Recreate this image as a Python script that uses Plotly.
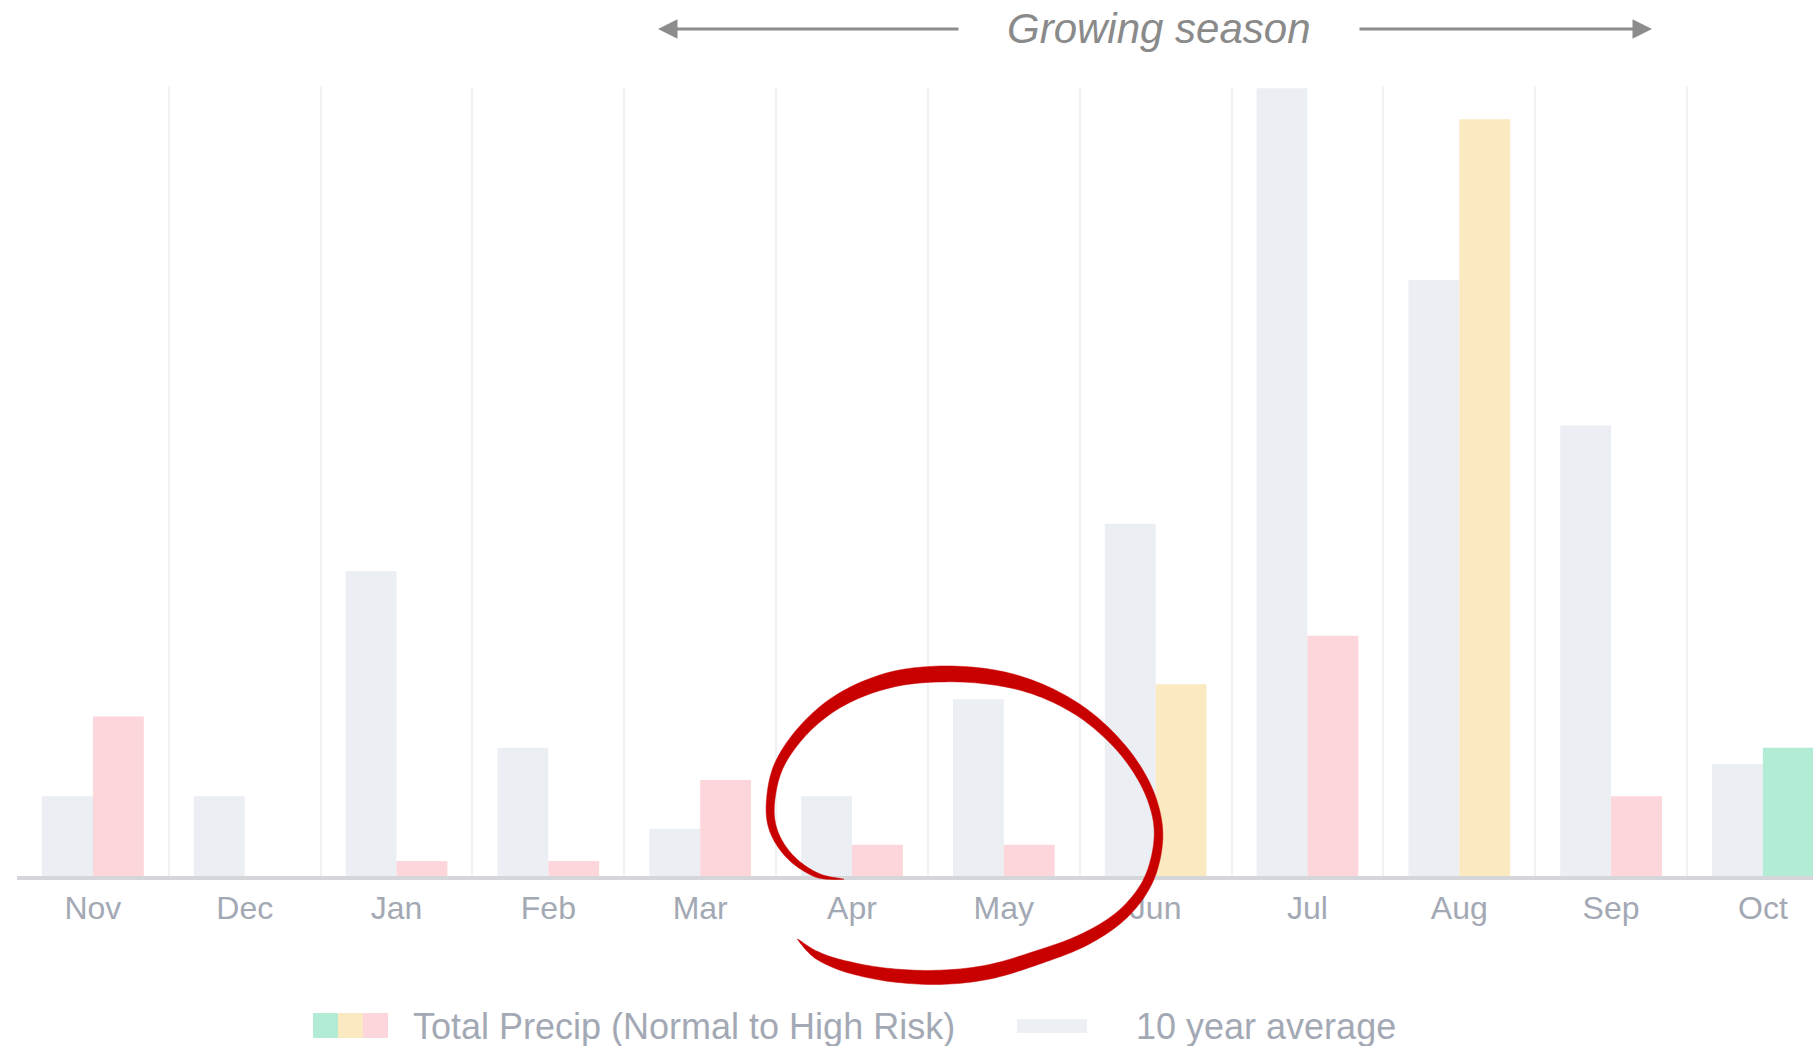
import numpy as np
import plotly.graph_objects as go

# ---------------- data ----------------
months = ["Nov", "Dec", "Jan", "Feb", "Mar", "Apr", "May", "Jun", "Jul", "Aug", "Sep", "Oct"]
ten_year_avg = [6.9, 6.9, 26.4, 11.1, 4.1, 6.9, 15.3, 30.5, 68.2, 51.6, 39.0, 9.7]
total_precip = [13.8, 0.0, 1.3, 1.3, 8.3, 2.7, 2.7, 16.6, 20.8, 65.5, 6.9, 11.1]
risk_level = ["high", "high", "high", "high", "high", "high", "high",
              "elevated", "high", "elevated", "high", "normal"]

risk_colors = {"normal": "#b2ecd5", "elevated": "#fbe9c1", "high": "#fdd6db"}
avg_color = "#ebeef2"
tick_color = "#a3a9b4"
red = "#c80000"

W, H = 1813, 1046
ML, MR, MT, MB = 17, 0, 87, 170
PW, PH = W - ML - MR, H - MT - MB


def px2paper(x, y):
    return (x - ML) / PW, (H - MB - y) / PH


fig = go.Figure()
fig.add_trace(go.Bar(x=months, y=ten_year_avg, name="10 year average",
                     marker=dict(color=avg_color, line=dict(width=0)),
                     showlegend=False))
fig.add_trace(go.Bar(x=months, y=total_precip, name="Total Precip (Normal to High Risk)",
                     marker=dict(color=[risk_colors[r] for r in risk_level], line=dict(width=0)),
                     showlegend=False))

fig.update_layout(
    width=W, height=H,
    margin=dict(l=ML, r=MR, t=MT, b=MB, pad=0),
    paper_bgcolor="white", plot_bgcolor="white",
    barmode="group", bargap=0.33, bargroupgap=0.0,
    font=dict(family="Liberation Sans, Arial, sans-serif"),
    xaxis=dict(
        type="category", range=[-0.5, 11.33],
        tickson="boundaries", showgrid=True, gridcolor="#f0f1f2", gridwidth=2,
        showline=True, linecolor="#d4d6da", linewidth=4,
        ticks="", tickfont=dict(size=32, color=tick_color),
        ticklabelstandoff=1,
    ),
    yaxis=dict(range=[0, 68.3], showgrid=False, zeroline=False,
               showticklabels=False, showline=False),
)

annotations = []
shapes = []

# "Growing season" header with arrows
tx, ty = px2paper(1159, 29)
annotations.append(dict(x=tx, y=ty, xref="paper", yref="paper", text="Growing season",
                        showarrow=False, xanchor="center", yanchor="middle",
                        font=dict(size=42, color="#8a8a8a", style="italic",
                                  family="Liberation Sans, Arial, sans-serif")))
for tip, tail in [((658, 29), (960, 29)), ((1652, 29), (1358, 29))]:
    hx, hy = px2paper(*tip)
    annotations.append(dict(x=hx, y=hy, xref="paper", yref="paper", text="",
                            showarrow=True, axref="pixel", ayref="pixel",
                            ax=tail[0] - tip[0], ay=tail[1] - tip[1],
                            arrowhead=2, arrowsize=1.3, arrowwidth=3,
                            arrowcolor="#8c8c8c", standoff=0, startstandoff=0))

# custom legend
sw_y0, sw_y1 = 1013, 1038
for i, key in enumerate(["normal", "elevated", "high"]):
    x0 = 313 + i * 25
    a0 = px2paper(x0, sw_y1)
    a1 = px2paper(x0 + 25, sw_y0)
    shapes.append(dict(type="rect", xref="paper", yref="paper",
                       x0=a0[0], y0=a0[1], x1=a1[0], y1=a1[1],
                       fillcolor=risk_colors[key], line=dict(width=0), layer="above"))
g0 = px2paper(1017, 1033)
g1 = px2paper(1087, 1019)
shapes.append(dict(type="rect", xref="paper", yref="paper",
                   x0=g0[0], y0=g0[1], x1=g1[0], y1=g1[1],
                   fillcolor="#eceff3", line=dict(width=0), layer="above"))
for lx, label in [(411, "Total Precip (Normal to High Risk)"), (1134, "10 year average")]:
    p = px2paper(lx, 1026)
    annotations.append(dict(x=p[0], y=p[1], xref="paper", yref="paper", text=label,
                            showarrow=False, xanchor="left", yanchor="middle",
                            font=dict(size=36, color=tick_color)))

# hand-drawn red loop (decoration), built as a tapered filled stroke
ctrl = [(312, 718), (230, 705), (150, 650), (100, 570), (92, 480), (120, 370),
        (200, 260), (310, 175), (450, 120), (600, 102), (760, 112), (900, 150),
        (1030, 220), (1140, 320), (1215, 430), (1252, 540), (1250, 640),
        (1215, 740), (1140, 830), (1030, 900), (900, 950), (750, 995),
        (600, 1012), (450, 1005), (320, 980), (230, 945), (172, 897)]
thick = [0, 14, 19, 23, 25, 29, 33, 40, 46, 48, 45, 38, 33, 29, 27, 25, 27,
         29, 33, 38, 41, 43, 43, 39, 33, 22, 0]
ctrl = np.array([(x / 3 + 740, y / 3 + 640) for x, y in ctrl])
thick = np.array(thick) / 3.0


def catmull(pts, n=12):
    out = []
    P = np.vstack([pts[0], pts, pts[-1]])
    for i in range(1, len(P) - 2):
        p0, p1, p2, p3 = P[i - 1], P[i], P[i + 1], P[i + 2]
        for t in np.linspace(0, 1, n, endpoint=False):
            t2, t3 = t * t, t * t * t
            out.append(0.5 * ((2 * p1) + (-p0 + p2) * t + (2 * p0 - 5 * p1 + 4 * p2 - p3) * t2
                              + (-p0 + 3 * p1 - 3 * p2 + p3) * t3))
    out.append(pts[-1])
    return np.array(out)


cl = catmull(ctrl)
tk = np.interp(np.linspace(0, 1, len(cl)), np.linspace(0, 1, len(thick)), thick)
d = np.gradient(cl, axis=0)
nrm = np.stack([-d[:, 1], d[:, 0]], axis=1)
nrm /= np.linalg.norm(nrm, axis=1, keepdims=True) + 1e-9
left = cl + nrm * (tk[:, None] / 2)
right = cl - nrm * (tk[:, None] / 2)
poly = np.vstack([left, right[::-1]])
pp = [px2paper(x, y) for x, y in poly]
path = "M " + " L ".join(f"{a:.5f},{b:.5f}" for a, b in pp) + " Z"
shapes.append(dict(type="path", xref="paper", yref="paper", path=path,
                   fillcolor=red, line=dict(width=0.5, color=red), layer="above"))

fig.update_layout(annotations=annotations, shapes=shapes)

fig.write_html("out.html", config={"displayModeBar": False},
               post_script="document.body.style.margin='0';")
